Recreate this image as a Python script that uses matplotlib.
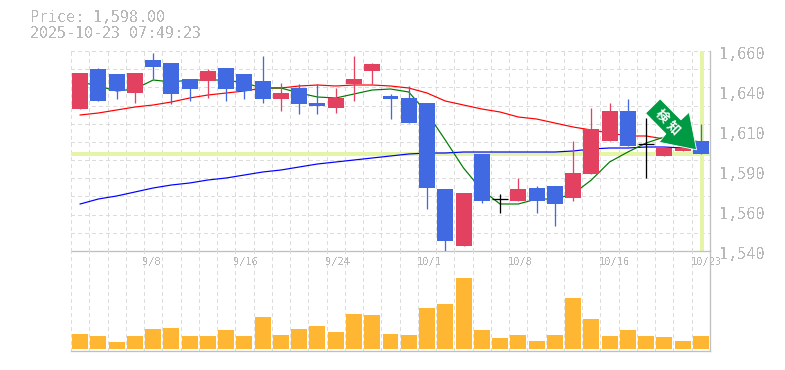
import matplotlib
matplotlib.use('Agg')
from matplotlib import pyplot as plt
from matplotlib.patches import Polygon
from matplotlib.transforms import Affine2D
import numpy as np

# candles, oldest first
opens = [1625, 1649, 1646, 1635, 1654.6, 1653, 1643, 1642, 1650, 1646, 1642, 1631, 1638, 1629, 1626, 1640, 1648, 1633,
         1632, 1629, 1577, 1543, 1598, 1571, 1570, 1578, 1579, 1572, 1586, 1606, 1624, 1604, 1597, 1600, 1606]
highs = [1647, 1650, 1646, 1647, 1659, 1653, 1643, 1649, 1650, 1646, 1657, 1641, 1640, 1640, 1638, 1657, 1653, 1634,
         1639, 1629, 1577, 1575, 1598, 1574, 1584, 1579, 1579, 1606, 1626, 1629, 1631, 1620, 1602, 1602, 1616]
lows = [1625, 1630, 1631, 1629, 1643, 1628, 1630, 1632, 1630, 1631, 1629, 1624, 1622, 1622, 1623, 1630, 1640, 1619,
        1617, 1565, 1540, 1543, 1569, 1563, 1570, 1563, 1555, 1570, 1586, 1606, 1603, 1584, 1597, 1600, 1598]
closes = [1647, 1630, 1636, 1647, 1650.4, 1634, 1637, 1648, 1637, 1636, 1631, 1635, 1628, 1627, 1632, 1643, 1652, 1631,
          1617, 1578, 1546, 1575, 1570, 1571, 1577, 1570, 1568, 1587, 1613, 1624, 1603, 1604, 1602, 1602, 1598]

# moving averages
ma_short = [1641.4, 1639, 1636, 1637.2, 1642.6, 1641.4, 1642.6, 1642.6, 1642.6, 1640.8, 1637.8, 1637.8, 1634.8, 1632.4,
            1631.8, 1634.2, 1636.6, 1637.2, 1635.4, 1622.8, 1606.6, 1589.8, 1576.6, 1568.2, 1568.2, 1571.2, 1571.2,
            1574.2, 1582.6, 1593.4, 1599.4, 1604.8, 1608.4, 1607, 1605.4]
ma_mid = [1621.6, 1622.8, 1624.6, 1626.4, 1627.6, 1629.4, 1631.8, 1633.6, 1634.8, 1636, 1637.8, 1637.8, 1639, 1639.6,
          1639, 1639.6, 1639.6, 1639, 1637.8, 1634.8, 1630, 1627.6, 1625.2, 1623.4, 1620.4, 1619.2, 1616.8, 1614.4,
          1612.6, 1610.8, 1609, 1609, 1607.2, 1606, 1604.8]
ma_long = [1568.2, 1571.2, 1573, 1575.4, 1577.8, 1579.6, 1580.8, 1582.6, 1583.8, 1585.6, 1587.4, 1588.6, 1590.4, 1592.2,
           1593.4, 1594.6, 1595.8, 1597, 1598.2, 1598.8, 1598.8, 1599.4, 1599.4, 1599.4, 1599.4, 1599.4, 1599.4, 1600,
           1601.2, 1601.8, 1601.8, 1602.4, 1602.4, 1601.8, 1601.8]

volumes = [15, 13, 7, 13, 20, 21, 13, 13, 19, 13, 32, 14, 20, 23, 17, 35, 34, 15, 14, 41, 45, 71, 19, 11, 14, 8, 14, 51,
           30, 13, 19, 13, 12, 8, 13]

date_pos = [4, 9, 14, 19, 24, 29, 34]
date_labels = ['9/8', '9/16', '9/24', '10/1', '10/8', '10/16', '10/23']

price_ticks = [1660, 1636, 1612, 1588, 1564, 1540]
price_labels = ['1,660', '1,640', '1,610', '1,590', '1,560', '1,540']

last_price = 1598.00

RED = '#E2425F'
BLUE = '#4169E1'
GRAY = '#B8B8B8'
GRID = '#DCDCDC'
PALE = '#E4F5A8'
SIGN = '#009944'
W, H = 785, 370
PX = 0.72  # one pixel in points at dpi 100

plt.rcParams['font.family'] = ['DejaVu Sans Mono', 'Noto Sans CJK JP']
plt.rcParams['text.antialiased'] = False

fig = plt.figure(figsize=(W / 100, H / 100), dpi=100)
ax = fig.add_axes([71 / W, (H - 251) / H, 639 / W, 200 / H])
ax_vol = fig.add_axes([71 / W, (H - 350.5) / H, 639 / W, 100 / H], sharex=ax)

x = np.arange(len(closes))
ax.set_xlim(-0.5, len(closes) - 0.5)
ax.set_ylim(1540, 1660)
ax_vol.set_ylim(-2, 98)

# grid, one cell per candle
dash = dict(color=GRID, lw=PX, dashes=(3, 3), zorder=0, antialiased=False)
for a in (ax, ax_vol):
    for xg in x - 0.5:
        a.axvline(xg, **dash)
for yg in np.linspace(1540, 1660, 12)[1:]:
    ax.axhline(yg, **dash)

ax.axhline(last_price, color=PALE, lw=3.6 * PX, zorder=1, antialiased=False)
ax.axvline(x[-1] + 0.05, color=PALE, lw=3.6 * PX, zorder=1, antialiased=False)

ax.plot(x, ma_long, color='#0000FF', lw=1.2 * PX, zorder=2)
ax.plot(x, ma_mid, color='#FF0000', lw=1.2 * PX, zorder=2)
ax.plot(x, ma_short, color='#007A00', lw=1.2 * PX, zorder=2)

for i in x:
    o, h, l, c = opens[i], highs[i], lows[i], closes[i]
    if o == c:
        col = 'black'
    elif c > o:
        col = RED
    else:
        col = BLUE
    ax.vlines(i, l, h, color=col, lw=1.3 * PX, zorder=3)
    if o == c:
        ax.hlines(c, i - 0.44, i + 0.44, color=col, lw=1.3 * PX, zorder=3)
    else:
        ax.bar(i, abs(c - o), 0.875, bottom=min(o, c), color=col, lw=0, zorder=3)

ax_vol.bar(x, volumes, 0.875, color='#FFB733', lw=0, zorder=2)

for pos, lab in zip(date_pos, date_labels):
    ax_vol.text(pos - 0.58, 86, lab, color=GRAY, fontsize=7.5, ha='left', va='center', zorder=4)

for a in (ax, ax_vol):
    a.set_xticks([])
    a.set_yticks([])
    for s in a.spines.values():
        s.set_visible(False)
    for side in ('bottom', 'right'):
        a.spines[side].set_visible(True)
        a.spines[side].set_color('#C0C0C0')
        a.spines[side].set_linewidth(1.3 * PX)
    a.patch.set_alpha(0)

for v, lab in zip(price_ticks, price_labels):
    ax.annotate(lab, (1, v), xycoords=('axes fraction', 'data'), xytext=(6.8, -2.2), textcoords='offset points',
                color=GRAY, fontsize=10.9, ha='left', va='center', annotation_clip=False)

fig.text(30 / W, 1 - 18 / H, 'Price: 1,598.00', color=GRAY, fontsize=10.8, ha='left', va='center')
fig.text(30 / W, 1 - 33 / H, '2025-10-23 07:49:23', color=GRAY, fontsize=10.8, ha='left', va='center')

# signal arrow, drawn in pixels relative to its tip just above the last close
shape = np.array([[0, 0], [-7.4, 37.6], [-15.7, 30], [-36.4, 51], [-51, 36.6], [-30.7, 16], [-37.4, 7.6]])
base = ax.transData.transform((x[-1], last_price))
to_tip = Affine2D().translate(base[0] - 4.3, base[1] + 4.5)
ax.add_patch(Polygon(shape, closed=True, facecolor=SIGN, edgecolor='white', lw=0.6, transform=to_tip, zorder=5,
                     clip_on=False))
for ch, (dx, dy) in zip('検知', [(-35, 33.6), (-23.4, 22)]):
    ax.text(dx, dy, ch, transform=to_tip, color='white', fontsize=9.4, fontweight='bold', rotation=-45, ha='center',
            va='center', rotation_mode='anchor', zorder=6, antialiased=True, clip_on=False)

fig.savefig('out.png', dpi=100)
